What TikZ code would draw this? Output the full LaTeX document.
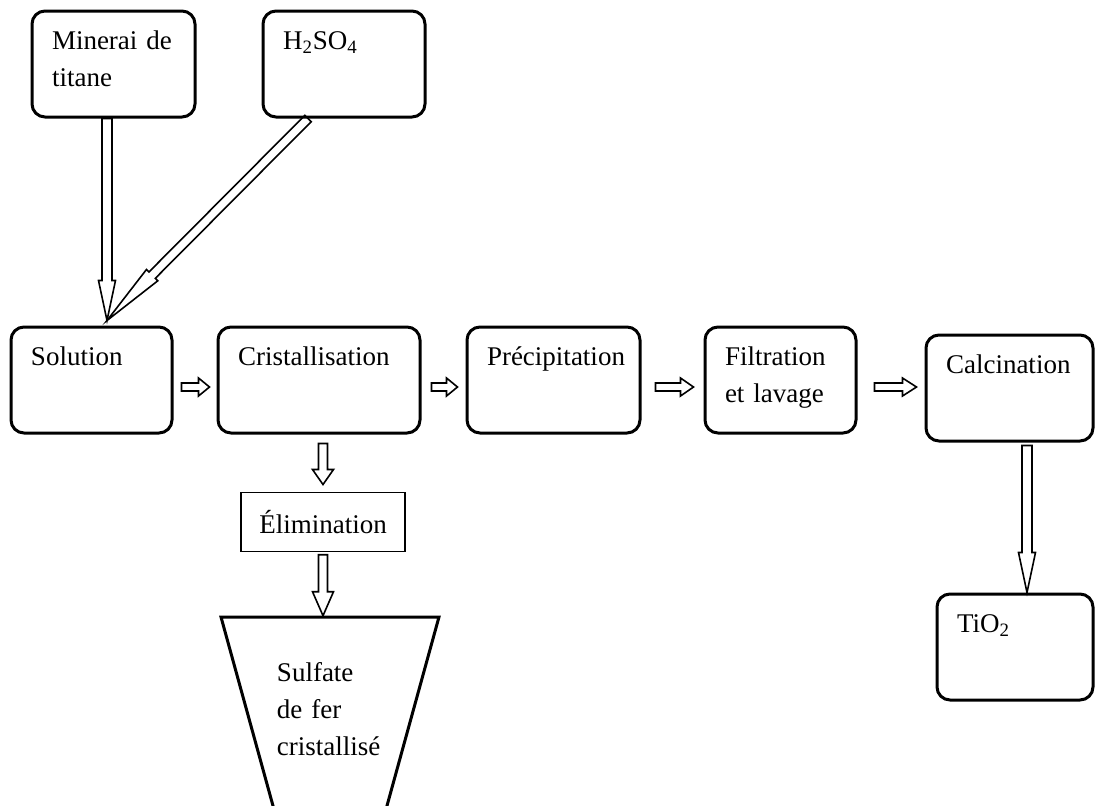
\documentclass[tikz,border=0pt]{standalone}
\usepackage{fontspec}
\setmainfont{Liberation Serif}
\usetikzlibrary{shapes.geometric, positioning, calc}

\newcommand{\boxfont}{\fontsize{13.5pt}{18.5pt}\selectfont\hyphenpenalty=10000 }

\begin{document}
\begin{tikzpicture}[
    node distance=0.6cm,
    block/.style={rectangle, draw, line width=1.5pt, rounded corners=6.5pt, text width=#1, align=left, inner sep=10pt, text height=9pt, text depth=24pt, font=\boxfont},
    stage/.style={rectangle, draw, line width=0.6pt, minimum width=82pt, minimum height=29.5pt, inner sep=2pt, font=\boxfont},
    funnel/.style={trapezium, shape border rotate=180, trapezium left angle=74.6, trapezium right angle=74.6, draw, line width=1.5pt, text width=53pt, align=left, inner xsep=1.25pt, inner ysep=4.5pt, text height=27.5pt, text depth=60.5pt, font=\boxfont},
    blockarrow/.style n args={3}{draw, line width=0.8pt, to path={
        let \p1=(\tikztostart), \p2=(\tikztotarget), \p3=($(\p2)!#3!(\p1)$) in
        ($(\p1)!#1!90:(\p2)$) -- ($(\p3)!#1!90:(\p2)$) -- ($(\p3)!#2!90:(\p2)$) -- (\p2)
        -- ($(\p3)!#2!-90:(\p2)$) -- ($(\p3)!#1!-90:(\p2)$) -- ($(\p1)!#1!-90:(\p2)$) -- cycle}},
    flow/.style={blockarrow={2pt}{4.5pt}{#1}},
    flow/.default=5.5pt,
    feed/.style={blockarrow={2.5pt}{4.25pt}{20pt}},
    drop/.style={blockarrow={2.25pt}{5.25pt}{#1}},
]
\useasboundingbox (0,0) rectangle (549pt,-402.5pt);
\clip (0,0) rectangle (549pt,-402.5pt);

\node [block=60.5pt] (sol) at (45.75pt,-190pt) {Solution};
\node [block=81pt, right=21.5pt of sol] (cri) {Cristallisation};
\node [block=66.5pt, right=22pt of cri] (pre) {Précipitation};
\node [block=55.5pt, right=31pt of pre] (fil) {Filtration\\et lavage};
\node [block=63.5pt, right=33.5pt of fil, yshift=-4pt] (cal) {Calcination};
\node [block=61.5pt, above=103.5pt of sol, xshift=11pt] (min) {Minerai de\\titane};
\node [block=61pt, right=32.5pt of min] (acid) {H\textsubscript{2}SO\textsubscript{4}};
\node [block=58pt, below=75pt of cal, xshift=2.75pt] (tio) {TiO\textsubscript{2}};
\node [stage, below=28.5pt of cri, xshift=2pt] (elim) {Élimination};
\node [funnel, below=32pt of elim, xshift=3.5pt] (sulf) {Sulfate\\de fer\\cristallisé};

\coordinate (meet) at ($(sol.north)+(7.75pt,2.5pt)$);
\path [feed] (min.south -| meet) to (meet);
\path [blockarrow={2.25pt}{4pt}{32pt}] ([xshift=-18pt]acid.south) to (meet);
\path [flow] ([xshift=4pt,yshift=-3.5pt]sol.east) to ([xshift=-3.5pt,yshift=-3.5pt]cri.west);
\path [flow] ([xshift=5pt,yshift=-3.5pt]cri.east) to ([xshift=-4pt,yshift=-3.5pt]pre.west);
\path [flow=6.5pt] ([xshift=7pt,yshift=-3.5pt]pre.east) to ([xshift=-5pt,yshift=-3.5pt]fil.west);
\path [flow=7pt] ([xshift=8.5pt,yshift=-3.5pt]fil.east) to ([xshift=-4pt,yshift=0.5pt]cal.west);
\path [drop=7.5pt] ($(cri.south -| elim.north)+(0,-4.5pt)$) to ([yshift=3.5pt]elim.north);
\path [drop=12pt] ([yshift=-1.5pt]elim.south) to (elim.south |- sulf.north);
\path [feed] ($(cal.south)+(8.75pt,-1.5pt)$) to ($(cal.south |- tio.north)+(8.75pt,0)$);
\end{tikzpicture}
\end{document}
